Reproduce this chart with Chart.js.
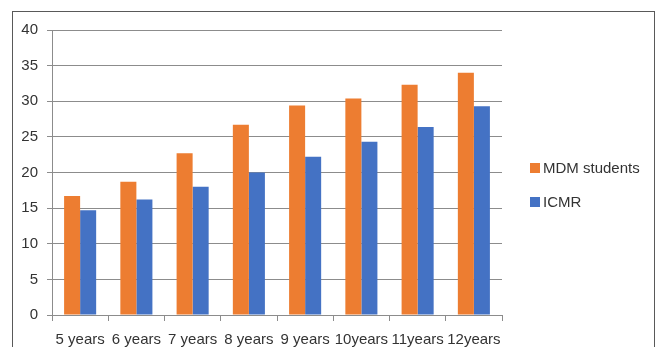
<!DOCTYPE html>
<html>
<head>
<meta charset="utf-8">
<script src="https://cdn.jsdelivr.net/npm/chart.js@4/dist/chart.umd.min.js"></script>
<style>
  html, body { margin: 0; padding: 0; background: #fff; }
  #wrap { position: relative; width: 662px; height: 347px; overflow: hidden; }
  #frame { position: absolute; left: 12px; top: 11px; width: 643px; height: 400px;
           border: 1px solid #595959; box-sizing: border-box; pointer-events: none; }
  canvas { position: absolute; left: 0; top: 0; }
</style>
</head>
<body>
<div id="wrap">
  <canvas id="c" width="662" height="347"></canvas>
  <div id="frame"></div>
</div>
<script>
// Age groups on the x axis
const categories = ['5 years', '6 years', '7 years', '8 years', '9 years', '10years', '11years', '12years'];
// Series values
const mdmStudents = [16.7, 18.7, 22.7, 26.7, 29.4, 30.4, 32.3, 34.0];
const icmr = [14.7, 16.2, 18.0, 20.0, 22.2, 24.3, 26.4, 29.3];
// Y axis range
const yMin = 0, yMax = 40, yStep = 5;

const FONT = 'Liberation Sans, Arial, sans-serif';
const TEXT = '#333333';
const GRID = '#8c8c8c';

// Legend drawn to the right of the plot, entries taken from the datasets
const sideLegend = {
  id: 'sideLegend',
  afterDraw(chart) {
    const ctx = chart.ctx;
    const x0 = 530, y0 = 168, gap = 34;
    ctx.save();
    ctx.font = '15px ' + FONT;
    ctx.textBaseline = 'middle';
    chart.data.datasets.forEach((ds, i) => {
      const y = y0 + i * gap;
      ctx.fillStyle = ds.backgroundColor;
      ctx.fillRect(x0, y - 5, 10, 10);
      ctx.fillStyle = TEXT;
      ctx.fillText(ds.label, x0 + 13, y + 1);
    });
    ctx.restore();
  }
};

new Chart(document.getElementById('c'), {
  type: 'bar',
  data: {
    labels: categories,
    datasets: [
      { label: 'MDM students', data: mdmStudents, backgroundColor: '#ED7D31' },
      { label: 'ICMR', data: icmr, backgroundColor: '#4472C4' }
    ]
  },
  options: {
    responsive: false,
    animation: false,
    devicePixelRatio: 1,
    layout: { padding: { left: 0, top: 30, right: 160, bottom: 0 } },
    datasets: { bar: { categoryPercentage: 0.57, barPercentage: 1.0 } },
    plugins: {
      legend: { display: false },
      tooltip: { enabled: false }
    },
    scales: {
      x: {
        grid: { drawOnChartArea: false, drawTicks: true, tickLength: 6, color: GRID, offset: true },
        border: { color: GRID },
        ticks: { color: TEXT, font: { family: FONT, size: 15 }, padding: 10, maxRotation: 0, autoSkip: false },
        afterFit(scale) { scale.height = 32; }
      },
      y: {
        min: yMin, max: yMax,
        ticks: { stepSize: yStep, color: TEXT, font: { family: FONT, size: 15 }, padding: 9 },
        grid: { color: GRID, tickLength: 5 },
        border: { color: GRID },
        afterFit(scale) { scale.width = 52; }
      }
    }
  },
  plugins: [sideLegend]
});
</script>
</body>
</html>
